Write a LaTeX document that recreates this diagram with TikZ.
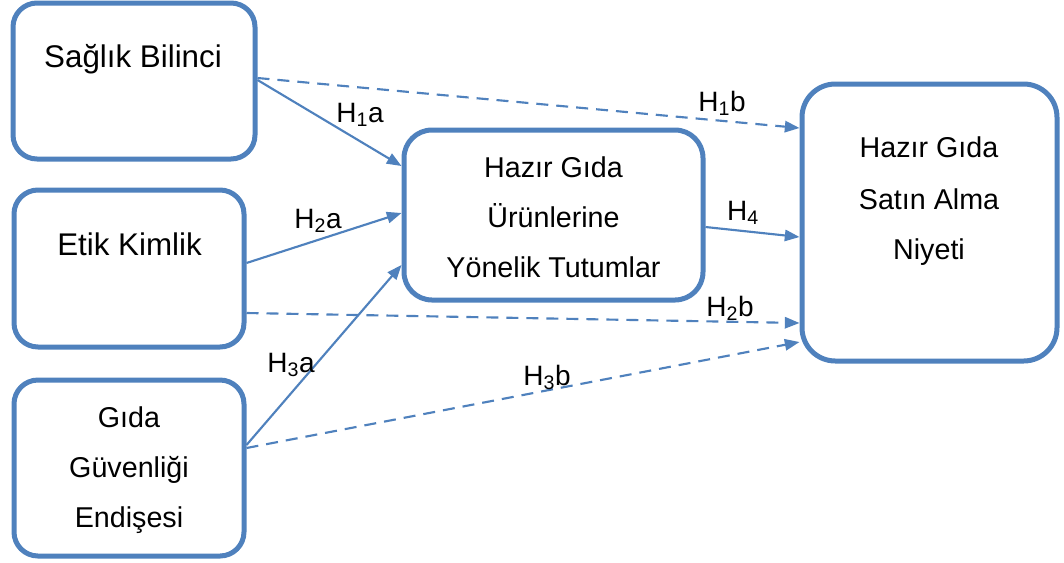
\documentclass[tikz,border=0pt]{standalone}
\usepackage{fontspec}
\setmainfont{Liberation Sans}
\usetikzlibrary{arrows.meta}
\definecolor{obl}{RGB}{79,129,189}
\tikzset{
  boxA/.style={draw=obl, line width=3.75pt, rounded corners=18pt, fill=white, inner sep=0pt},
  txtA/.style={anchor=base, inner sep=0pt, font=\fontsize{23.5pt}{28pt}\selectfont},
  txtB/.style={anchor=base, inner sep=0pt, font=\fontsize{21.5pt}{26pt}\selectfont},
  lab/.style={anchor=base, inner sep=0pt, font=\fontsize{21pt}{25pt}\selectfont},
  conn/.style={draw=obl, line width=1.6pt, -{Triangle[length=11pt,width=8.5pt]}},
  dconn/.style={conn, dash pattern=on 9pt off 6pt},
}
\begin{document}
\begin{tikzpicture}[x=0.75pt,y=-0.75pt]
\useasboundingbox (0,0) rectangle (1064,562);
% boxes
\node[boxA, minimum width=181.5pt, minimum height=117pt] (A) at (134,81) {};
\node[boxA, minimum width=172.5pt, minimum height=117.75pt] (B) at (129,268.5) {};
\node[boxA, minimum width=172.5pt, minimum height=132pt] (C) at (129,468) {};
\node[boxA, rounded corners=21pt, minimum width=224.25pt, minimum height=127.5pt] (M) at (553.5,215) {};
\node[boxA, rounded corners=25pt, minimum width=191.25pt, minimum height=207.75pt] (R) at (929.5,222.5) {};
% texts
\node[txtA] (tA) at (133,67) {Sağlık Bilinci};
\node[txtA] (tB) at (129.5,255) {Etik Kimlik};
\node[txtB] (tC1) at (129,427) {Gıda};
\node[txtB] (tC2) at (129,477) {Güvenliği};
\node[txtB] (tC3) at (129,527) {Endişesi};
\node[txtB] (tM1) at (553.5,177) {Hazır Gıda};
\node[txtB] (tM2) at (553.5,227) {Ürünlerine};
\node[txtB] (tM3) at (553.5,277) {Yönelik Tutumlar};
\node[txtB] (tR1) at (929,157) {Hazır Gıda};
\node[txtB] (tR2) at (929,209) {Satın Alma};
\node[txtB] (tR3) at (929,259) {Niyeti};
% connector end points
\coordinate (a1) at (A.east |- 0,80);
\coordinate (a2) at (A.east |- 0,78);
\coordinate (b1) at (B.east |- 0,263);
\coordinate (b2) at (B.east |- 0,313);
\coordinate (c1) at (C.east |- 0,445);
\coordinate (c2) at (C.east |- 0,448);
\coordinate (m1) at (M.west |- 0,166);
\coordinate (m2) at (M.west |- 0,213);
\coordinate (m3) at (M.west |- 0,265);
\coordinate (m4) at (M.east |- 0,227);
\coordinate (r1) at (R.west |- 0,128);
\coordinate (r2) at (R.west |- 0,323);
\coordinate (r3) at (R.west |- 0,342);
\coordinate (r4) at (R.west |- 0,237);
% connectors
\draw[conn] (a1) -- (m1);
\draw[dconn] (a2) -- (r1);
\draw[conn] (b1) -- (m2);
\draw[dconn] (b2) -- (r2);
\draw[conn] (c1) -- (m3);
\draw[dconn] (c2) -- (r3);
\draw[conn] (m4) -- (r4);
% labels
\node[lab] (l1a) at (360,122) {H\textsubscript{1}a};
\node[lab] (l1b) at (722,111) {H\textsubscript{1}b};
\node[lab] (l2a) at (318,228) {H\textsubscript{2}a};
\node[lab] (l4) at (743,220) {H\textsubscript{4}};
\node[lab] (l2b) at (730,316) {H\textsubscript{2}b};
\node[lab] (l3a) at (291,372) {H\textsubscript{3}a};
\node[lab] (l3b) at (547,385) {H\textsubscript{3}b};
\end{tikzpicture}
\end{document}
